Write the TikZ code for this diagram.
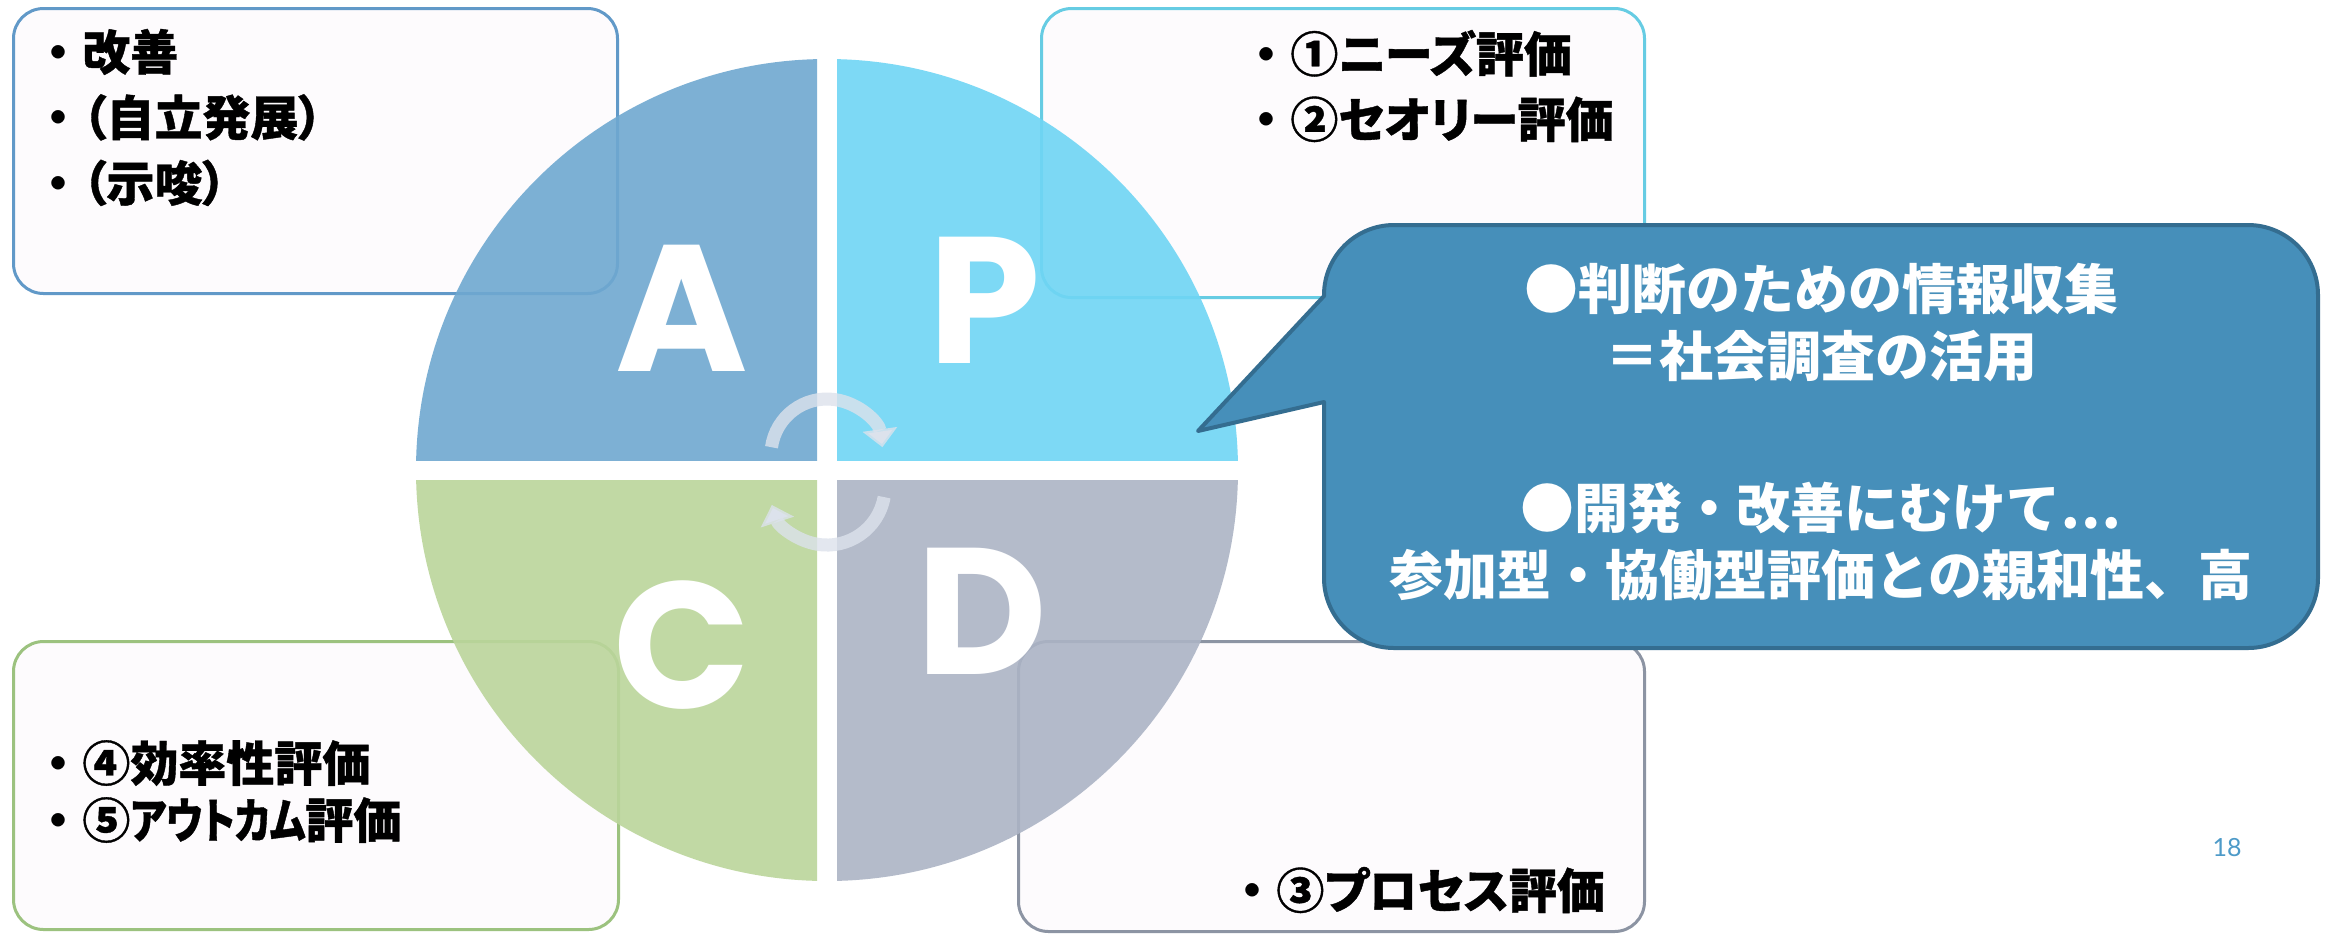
\documentclass[tikz,border=0pt]{standalone}
\usepackage{fontspec}
\usetikzlibrary{arrows.meta}
\newfontfamily\jpbox{Noto Sans CJK JP}[RawFeature={+palt}, BoldFeatures={FakeBold=0.8}]
\newfontfamily\jpkana{Noto Sans CJK JP}[RawFeature={+palt}, FakeStretch=0.8, BoldFeatures={FakeBold=0.8}]
\newfontfamily\jpfull{Noto Sans CJK JP}
\newfontfamily\letterfont{Poppins}
\newfontfamily\numfont{Lato}
\newcommand\jbul{{\jpfull\bfseries ・}}
\definecolor{qa}{HTML}{6FA8D0}
\definecolor{qp}{HTML}{6FD5F4}
\definecolor{qc}{HTML}{BBD59B}
\definecolor{qd}{HTML}{ACB4C5}
\definecolor{boxfill}{HTML}{FDFBFD}
\definecolor{aborder}{HTML}{6199C8}
\definecolor{pborder}{HTML}{66CCE3}
\definecolor{cborder}{HTML}{9CC27F}
\definecolor{dborder}{HTML}{8C94A3}
\definecolor{callfill}{HTML}{468FBA}
\definecolor{callborder}{HTML}{346D90}
\definecolor{arrowcol}{HTML}{DCE2EC}
\definecolor{pagenum}{HTML}{4D9AC8}
\begin{document}
\begin{tikzpicture}[x=0.5pt,y=0.5pt,
  box/.style={draw, line width=1.5pt, fill=boxfill, rounded corners=15pt, anchor=north west, inner sep=0pt},
  boxtext/.style={anchor=west, inner sep=0pt, align=left, text=black,
    font=\jpbox\bfseries\fontsize{24pt}{32.75pt}\selectfont},
  quadletter/.style={text=white, inner sep=0pt,
    font=\letterfont\bfseries\fontsize{90pt}{90pt}\selectfont},
  cyclearrow/.style={line width=6.5pt, draw=arrowcol, draw opacity=0.8,
    -{Triangle[length=9pt,width=17pt]}},
  calltext/.style={text=white, inner sep=0pt, align=center,
    font=\jpfull\bfseries\fontsize{27pt}{33.5pt}\selectfont},
  quadfill/.style={fill opacity=0.9}
]
\fill[white] (0,0) rectangle (2325,-934);
\useasboundingbox (0,0) rectangle (2325,-934);

% text boxes
\node[box, draw=aborder, minimum width=302pt, minimum height=142.5pt] (boxA) at (12,-7) {};
\node[box, draw=pborder, minimum width=301.5pt, minimum height=144.5pt] (boxP) at (1040,-7) {};
\node[box, draw=cborder, minimum width=302.5pt, minimum height=144pt] (boxC) at (12,-640) {};
\node[box, draw=dborder, minimum width=313pt, minimum height=145pt] (boxD) at (1017,-640) {};

% PDCA circle
\coordinate (ctr) at (827,-470);
\begin{scope}
  \clip (0,0) rectangle (817,-460);
  \fill[qa, quadfill] (ctr) circle (205.5pt);
\end{scope}
\begin{scope}
  \clip (837,0) rectangle (2325,-460);
  \fill[qp, quadfill] (ctr) circle (205.5pt);
\end{scope}
\begin{scope}
  \clip (0,-480) rectangle (817,-934);
  \fill[qc, quadfill] (ctr) circle (205.5pt);
\end{scope}
\begin{scope}
  \clip (837,-480) rectangle (2325,-934);
  \fill[qd, quadfill] (ctr) circle (205.5pt);
\end{scope}

\node[quadletter] (lA) at (682,-308) {A};
\node[quadletter] (lP) at (985,-300) {P};
\node[quadletter] (lC) at (682,-645) {C};
\node[quadletter] (lD) at (982,-611) {D};

% cycle arrows
\coordinate (cycA) at (771.5,-447.2);
\coordinate (cycB) at (884.1,-497.1);
\draw[cyclearrow] (cycA) arc[start angle=172, end angle=8, radius=28pt];
\draw[cyclearrow] (cycB) arc[start angle=-10, end angle=-162, radius=29pt];

% box texts
\node[boxtext] (tA) at (34,-117.5) {\jbul 改善\\\jbul（自立発展）\\\jbul（示唆）};
\node[boxtext] (tP) at (1242,-86) {\jbul ①ニーズ評価\\\jbul ②セオリー評価};
\node[boxtext, font=\jpbox\bfseries\fontsize{24pt}{28.5pt}\selectfont] (tC) at (34,-791.5) {\jbul ④効率性評価\\\jbul ⑤{\jpkana アウトカム}評価};
\node[boxtext] (tD) at (1228,-890) {\jbul ③プロセス評価};

% callout
\draw[fill=callfill, draw=callborder, line width=2pt, line join=round]
  (1324,-296) -- (1198,-431) -- (1324,-402) -- (1324,-578)
  arc[start angle=180, end angle=270, radius=35pt] -- (2248,-648)
  arc[start angle=270, end angle=360, radius=35pt] -- (2318,-295)
  arc[start angle=0, end angle=90, radius=35pt] -- (1394,-225)
  arc[start angle=90, end angle=180, radius=35pt] -- cycle;
\node[calltext] (call) at (1821,-432) {●判断のための情報収集\\＝社会調査の活用\\[42.5pt]●開発・改善にむけて…\\参加型・協働型評価との親和性、高};

\node[text=pagenum, inner sep=0pt, font=\numfont\fontsize{12.5pt}{12.5pt}\selectfont] (pg) at (2227,-848) {18};
\end{tikzpicture}
\end{document}
